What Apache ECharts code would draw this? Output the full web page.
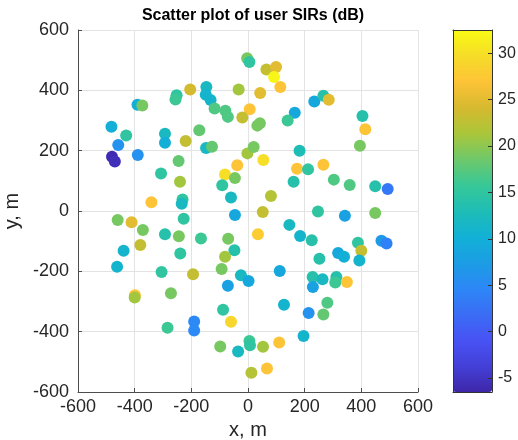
<!DOCTYPE html>
<html>
<head>
<meta charset="utf-8">
<script src="https://cdn.jsdelivr.net/npm/echarts@6/dist/echarts.min.js"></script>
<style>
html,body{margin:0;padding:0;background:#fff;}
#chart{width:518px;height:440px;}
</style>
</head>
<body>
<div id="chart"></div>
<script>
// ---- data ----
const xs = [-3,5,65,99,92,114,43,6,-20,33,42,165,140,234,266,285,404,414,395,182,
-204,-147,-149,-132,-118,-80,-71,-33,-252,-256,-390,-373,-482,-430,-293,-293,-220,-172,-148,-127,
-458,-389,-480,-470,-245,-307,-240,-341,-231,-234,-38,-81,-46,-91,-60,-46,-2,20,54,173,
212,266,161,303,359,449,493,81,52,247,342,449,-460,-411,-371,-380,-439,-462,-293,-244,
-227,-239,-166,-70,-48,-81,-93,-305,-194,-25,35,146,184,225,388,471,489,400,318,339,
393,252,112,2,228,263,312,308,349,229,127,214,280,266,196,5,7,53,110,12,
67,-71,-399,-400,-272,-88,-60,-190,-190,-284,-98,-35];
const ys = [506,494,469,477,444,411,391,337,310,283,291,326,300,363,382,369,315,271,216,200,
403,411,385,368,340,332,312,403,384,370,352,350,279,250,256,226,232,268,209,213,
219,186,180,164,166,124,97,29,38,24,152,121,109,85,45,-13,191,212,169,140,
138,153,97,104,86,82,73,50,-3,-2,-16,-7,-30,-37,-63,-113,-132,-185,-77,-84,
-26,-141,-91,-92,-130,-152,-192,-202,-210,-213,-77,-46,-83,-97,-105,-99,-108,-132,-139,-152,
-164,-158,-199,-232,-219,-226,-219,-237,-235,-252,-311,-338,-304,-343,-414,-431,-445,-450,-436,-536,
-522,-248,-279,-287,-273,-327,-367,-366,-396,-387,-449,-466];
const sirs = [19,15,23,25,32,27,25,27,23,19,19,9,16,9,14,25,14,27,19,13,
24,12,11,11,17,17,17,21,15,16,10,19,10,15,12,10,23,18,12,18,
6,6,-6,-5.5,18,15,21,27,15,12,27,30,19,15,12,9,21,19,30,27,
15,27,14,17,17,14,3,22,23,15,8,19,19,25,19,23,11,11,14,19,
15,15,16,19,14,21,19,15,23,12,28,12,11,14,15,7,4,23,9,10,
11,14,9,9,14,12,14,16,27,8,11,6,17,18,11,16,15,21,27,22,
27,8,27,21,19,15,29,5,5,16,19,12];
const axisTicks = [-600,-400,-200,0,200,400,600];
const cbarTicks = [-5,0,5,10,15,20,25,30];
const cbarMin = -6.5, cbarMax = 32.5;

const FONT = '"Liberation Sans", Arial, Helvetica, sans-serif';
const points = xs.map((x, i) => [x, ys[i], sirs[i]]);

const chart = echarts.init(document.getElementById('chart'), null, {renderer: 'canvas'});
const axisColor = '#4d4d4d';
const textColor = '#262626';

chart.setOption({
  animation: false,
  backgroundColor: '#ffffff',
  title: {
    text: 'Scatter plot of user SIRs (dB)',
    left: 248, top: 3, textAlign: 'center',
    textStyle: {fontFamily: FONT, fontSize: 16, fontWeight: 'bold', color: '#000'}
  },
  grid: [
    {left: 78, top: 30, width: 340, height: 362, containLabel: false, outerBoundsMode: 'none'},
    {left: 453, top: 30, width: 39, height: 362, containLabel: false, outerBoundsMode: 'none'}
  ],
  xAxis: [
    {
      gridIndex: 0, type: 'value', min: axisTicks[0], max: axisTicks[axisTicks.length-1], interval: 200,
      name: 'x, m', nameLocation: 'middle', nameGap: 24,
      nameTextStyle: {fontFamily: FONT, fontSize: 20, color: textColor},
      axisLine: {show: true, onZero: false, lineStyle: {color: axisColor, width: 1}},
      axisTick: {show: true, inside: true, length: 4, lineStyle: {color: axisColor}},
      axisLabel: {fontFamily: FONT, fontSize: 18, color: textColor, margin: 6},
      splitLine: {show: true, lineStyle: {color: '#e3e3e3', width: 1}}
    },
    {
      gridIndex: 1, type: 'value', min: 0, max: 1, position: 'bottom', z: 10,
      axisLine: {show: true, onZero: false, lineStyle: {color: '#333', width: 1}},
      axisTick: {show: false}, axisLabel: {show: false}, splitLine: {show: false}
    },
    {
      gridIndex: 1, type: 'value', min: 0, max: 1, position: 'top', z: 10,
      axisLine: {show: true, onZero: false, lineStyle: {color: '#333', width: 1}},
      axisTick: {show: false}, axisLabel: {show: false}, splitLine: {show: false}
    }
  ],
  yAxis: [
    {
      gridIndex: 0, type: 'value', min: axisTicks[0], max: axisTicks[axisTicks.length-1], interval: 200,
      name: 'y, m', nameLocation: 'middle', nameGap: 50,
      nameTextStyle: {fontFamily: FONT, fontSize: 20, color: textColor},
      axisLine: {show: true, onZero: false, lineStyle: {color: axisColor, width: 1}},
      axisTick: {show: true, inside: true, length: 4, lineStyle: {color: axisColor}},
      axisLabel: {fontFamily: FONT, fontSize: 18, color: textColor, margin: 9},
      splitLine: {show: true, lineStyle: {color: '#e3e3e3', width: 1}}
    },
    {
      gridIndex: 1, type: 'value', min: cbarMin, max: cbarMax, position: 'right', z: 10,
      axisLine: {show: true, onZero: false, lineStyle: {color: '#333', width: 1}},
      axisTick: {show: true, inside: true, length: 4, customValues: cbarTicks, lineStyle: {color: '#333'}},
      axisLabel: {show: true, customValues: cbarTicks, fontFamily: FONT, fontSize: 16, color: textColor, margin: 6},
      splitLine: {show: false}
    },
    {
      gridIndex: 1, type: 'value', min: 0, max: 1, position: 'left', z: 10,
      axisLine: {show: true, onZero: false, lineStyle: {color: '#333', width: 1}},
      axisTick: {show: false}, axisLabel: {show: false}, splitLine: {show: false}
    }
  ],
  visualMap: {
    type: 'continuous',
    min: cbarMin, max: cbarMax,
    dimension: 2, seriesIndex: 0,
    calculable: false, hoverLink: false,
    orient: 'vertical',
    left: 453, top: 30, padding: 0,
    itemWidth: 39, itemHeight: 362,
    text: null,
    inRange: {
      color: ['#3e26a8', '#4340d8', '#4852f4', '#3a6df5', '#2d87f7', '#1b9de4', '#12b1d6', '#1ebdb6',
              '#37c897', '#6fc86a', '#abc639', '#d6b92e', '#fec338', '#f6dc28', '#f9fb14']
    }
  },
  series: [{
    type: 'scatter',
    xAxisIndex: 0, yAxisIndex: 0,
    symbolSize: 12,
    data: points,
    itemStyle: {opacity: 1}
  }]
});
</script>
</body>
</html>
